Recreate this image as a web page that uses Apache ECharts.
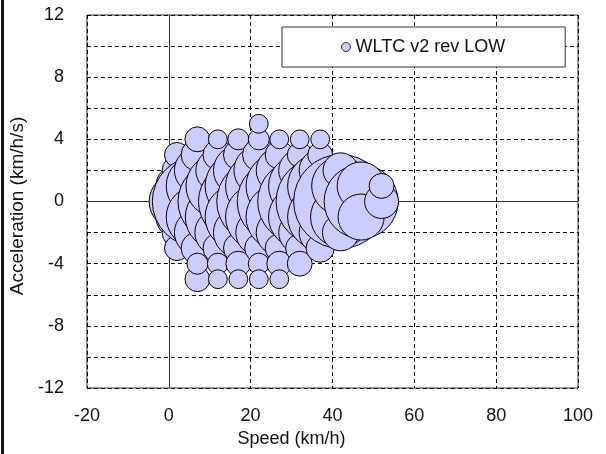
<!DOCTYPE html>
<html>
<head>
<meta charset="utf-8">
<script src="https://cdn.jsdelivr.net/npm/echarts@6/dist/echarts.min.js"></script>
<style>
  html, body { margin: 0; padding: 0; background: #fff; }
  #chart { width: 606px; height: 454px; }
</style>
</head>
<body>
<div id="chart"></div>
<script>
// Speed bins (km/h) and acceleration bins (km/h/s) of the cycle distribution
const speedBins = [2, 7, 12, 17, 22, 27, 32, 37, 42, 47, 52];
const accelBins = [5, 4, 3, 2, 1, 0, -1, -2, -3, -4, -5];

// Occurrence count per speed bin, one entry per accelBins value (0 = empty cell)
const freqV2  = [0, 0, 7, 10, 20, 35, 20, 10, 7, 0, 0];
const freqV7  = [0, 7, 12, 24, 44, 92, 44, 24, 12, 5, 7];
const freqV12 = [0, 4, 10, 22, 46, 72, 48, 24, 10, 5, 4];
const freqV17 = [0, 5, 10, 28, 50, 72, 50, 28, 10, 7, 4];
const freqV22 = [4, 5, 12, 28, 50, 80, 50, 24, 9, 5, 4];
const freqV27 = [0, 4, 9, 24, 50, 80, 50, 24, 9, 7, 4];
const freqV32 = [0, 4, 7, 20, 44, 80, 44, 20, 9, 7, 0];
const freqV37 = [0, 4, 7, 20, 48, 88, 48, 20, 9, 0, 0];
const freqV42 = [0, 0, 0, 14, 38, 100, 41, 15, 0, 0, 0];
const freqV47 = [0, 0, 0, 0, 26, 62, 24, 0, 0, 0, 0];
const freqV52 = [0, 0, 0, 0, 7, 13, 0, 0, 0, 0, 0];

// Axis tick labels
const xTicks = [-20, 0, 20, 40, 60, 80, 100];
const yTicks = [-12, -8, -4, 0, 4, 8, 12];

const seriesName = 'WLTC v2 rev LOW';
const freqRows = [freqV2, freqV7, freqV12, freqV17, freqV22, freqV27,
                  freqV32, freqV37, freqV42, freqV47, freqV52];

// Bubbles ordered by speed; within a speed bin the big ones go first so
// the smaller bubbles stay visible on top.
const points = [];
speedBins.forEach((v, i) => {
  const cells = [];
  freqRows[i].forEach((n, j) => { if (n > 0) cells.push([v, accelBins[j], n]); });
  cells.sort((a, b) => b[2] - a[2]);
  points.push(...cells);
});

const bubbleScale = 9.4; // diameter in px per sqrt(count): bubble area ~ count
const font = "'Liberation Sans', Arial, sans-serif";
const dash = { type: [4, 3], color: '#000', width: 1 };

const chart = echarts.init(document.getElementById('chart'), null, { renderer: 'canvas' });
chart.setOption({
  animation: false,
  backgroundColor: '#fff',
  textStyle: { fontFamily: font },
  grid: {
    show: true, left: 84, top: 15, width: 494, height: 373,
    borderColor: '#333', borderWidth: 1, backgroundColor: 'transparent'
  },
  graphic: [{
    type: 'rect', left: 1, top: 0, shape: { width: 3, height: 454 },
    style: { fill: '#111' }, silent: true
  }],
  legend: {
    data: [seriesName],
    left: 282, top: 27,
    padding: [11, 60, 11, 59],
    itemWidth: 9, itemHeight: 9,
    icon: 'circle',
    itemStyle: { borderColor: '#333', borderWidth: 1 },
    textStyle: { fontSize: 18, color: '#111', fontFamily: font },
    borderColor: '#333', borderWidth: 1, backgroundColor: '#fff',
    selectedMode: false
  },
  xAxis: {
    type: 'value',
    min: xTicks[0], max: xTicks[xTicks.length - 1], interval: xTicks[1] - xTicks[0],
    axisLine: { show: false }, axisTick: { show: false },
    splitLine: { show: true, lineStyle: dash },
    axisLabel: { fontSize: 18, color: '#111', margin: 19, fontFamily: font },
    name: 'Speed (km/h)', nameLocation: 'middle', nameGap: 33,
    nameTextStyle: { fontSize: 18, color: '#111', fontFamily: font, padding: [0, 82, 0, 0] }
  },
  yAxis: {
    type: 'value',
    min: yTicks[0], max: yTicks[yTicks.length - 1], interval: yTicks[1] - yTicks[0],
    axisLine: { show: false }, axisTick: { show: false },
    splitLine: { show: true, lineStyle: dash },
    minorTick: { show: false, splitNumber: 2 },
    minorSplitLine: { show: true, lineStyle: dash },
    axisLabel: { fontSize: 18, color: '#111', margin: 23, fontFamily: font },
    name: 'Acceleration (km/h/s)', nameLocation: 'middle', nameGap: 47, nameRotate: 90,
    nameTextStyle: { fontSize: 19, color: '#111', fontFamily: font, padding: [0, 9, 0, 0] }
  },
  series: [
    {
      // zero axes crossing inside the plot
      type: 'line', data: [], z: 1, silent: true,
      markLine: {
        silent: true, z: 1, animation: false, symbol: ['none', 'none'],
        label: { show: false },
        lineStyle: { type: 'solid', color: '#333', width: 1 },
        emphasis: { disabled: true },
        data: [{ xAxis: 0 }, { yAxis: 0 }]
      }
    },
    {
      name: seriesName,
      type: 'scatter',
      z: 3,
      symbol: 'circle',
      data: points,
      symbolSize: v => bubbleScale * Math.sqrt(v[2]),
      itemStyle: { color: '#ccccff', borderColor: '#000', borderWidth: 1, opacity: 1 },
      emphasis: { disabled: true },
      silent: true
    }
  ]
});
</script>
</body>
</html>
